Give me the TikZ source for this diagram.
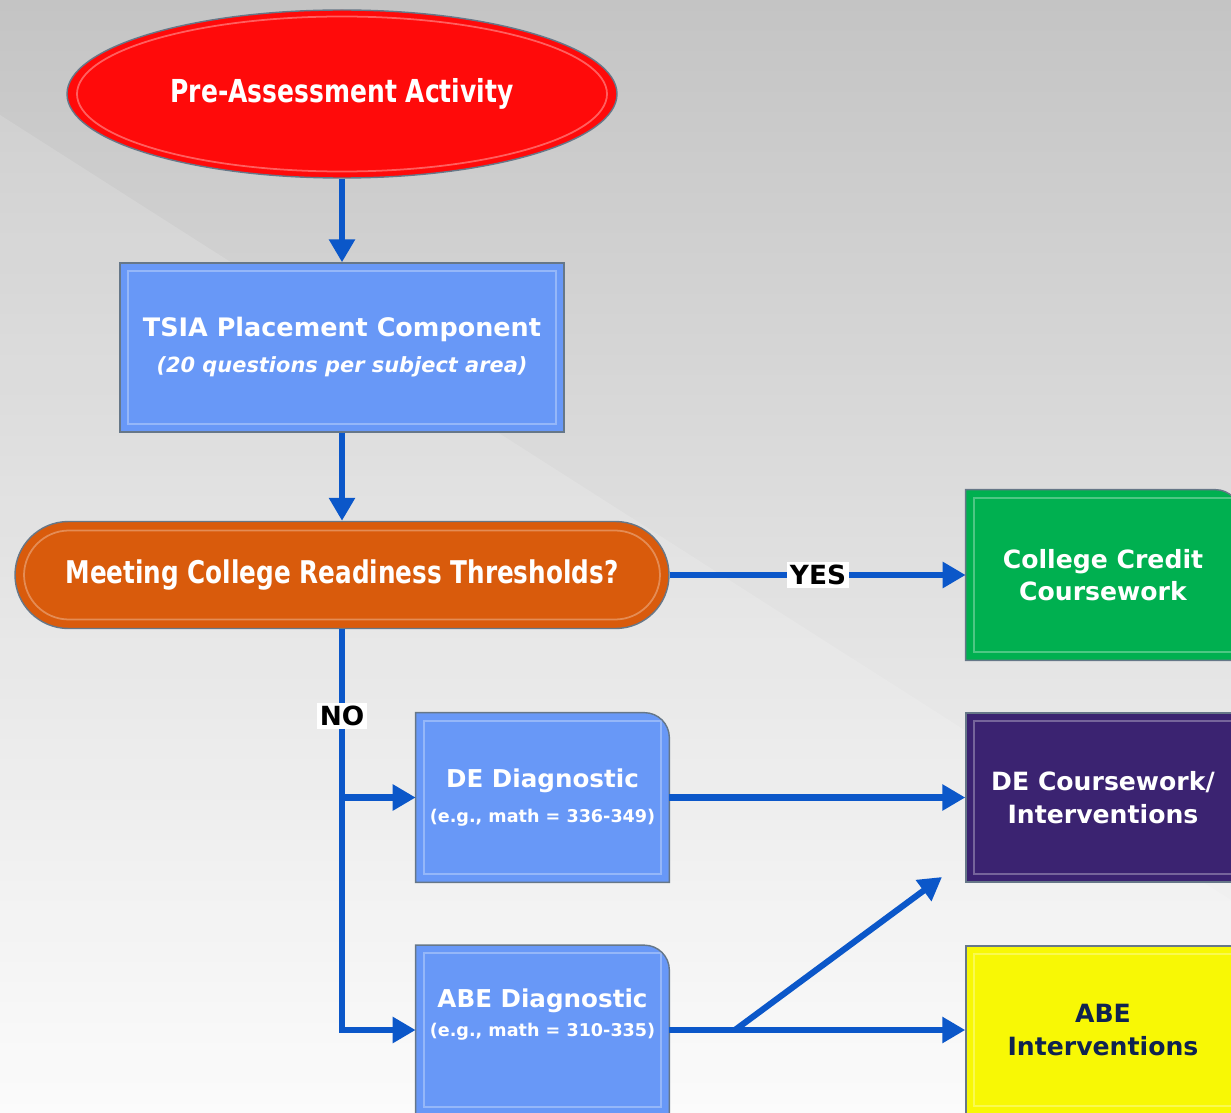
\documentclass[tikz,border=0pt]{standalone}
\usepackage{fontspec}
\setmainfont{DejaVu Sans}
\newfontfamily\narrowfont{DejaVu Sans}[FakeStretch=0.79]
\usetikzlibrary{arrows.meta,shapes.geometric,backgrounds}

\definecolor{lineblue}{HTML}{0B57C9}
\definecolor{edgegray}{HTML}{667788}
\definecolor{redfill}{HTML}{FF0A0A}
\definecolor{bluefill}{HTML}{6898F7}
\definecolor{orangefill}{HTML}{D95B0C}
\definecolor{greenfill}{HTML}{00B050}
\definecolor{purplefill}{HTML}{3B2371}
\definecolor{yellowfill}{HTML}{F8F805}
\definecolor{navytext}{HTML}{0F2350}
\definecolor{bgtop}{HTML}{C4C4C4}
\definecolor{bgbot}{HTML}{FBFBFB}

\begin{document}
\begin{tikzpicture}[
    flow/.style={draw=lineblue, line width=3.5pt,
                 -{Triangle[length=0.46cm, width=0.5cm]}},
    bevel/.style={path picture={\draw[white, opacity=0.3, line width=1.2pt]
        ([shift={(0.16,-0.16)}]path picture bounding box.north west) rectangle
        ([shift={(-0.16,0.16)}]path picture bounding box.south east);}},
    box/.style={rectangle, draw=edgegray, line width=0.8pt, align=center,
                text=white, font=\bfseries\fontsize{14.3}{18.5}\selectfont, inner sep=0pt, bevel},
    slot/.style={rectangle, align=center, text=white, inner sep=0pt,
                 font=\bfseries\fontsize{14}{18.5}\selectfont},
    corner/.style={draw=edgegray, line width=0.8pt, bevel},
    lbl/.style={fill=white, inner sep=1.5pt, text=black,
                font=\bfseries\fontsize{15}{18}\selectfont}
]
    \useasboundingbox (0,0) rectangle (24.62,-22.26);
    \clip (0,0) rectangle (24.62,-22.26);

    % top of the chart
    \node[ellipse, draw=edgegray, line width=0.8pt, fill=redfill, text=white,
          minimum width=11.0cm, minimum height=3.36cm, inner sep=0pt,
          font=\narrowfont\bfseries\fontsize{18}{21}\selectfont,
          path picture={\draw[white, opacity=0.35, line width=1pt]
              (path picture bounding box.center) ellipse [x radius=5.3cm, y radius=1.55cm];}]
          (start) at (6.84,-1.88) {Pre-Assessment Activity};
    \node[box, fill=bluefill, minimum width=8.88cm, minimum height=3.38cm,
          font=\bfseries\fontsize{14.5}{18.5}\selectfont]
          (tsia) at (6.84,-6.95)
          {TSIA Placement Component\\[2pt]{\itshape\fontsize{11.9}{15}\selectfont (20 questions per subject area)}};
    \node[rectangle, rounded corners=1.07cm, draw=edgegray, line width=0.8pt,
          fill=orangefill, text=white, minimum width=13.08cm, minimum height=2.14cm,
          inner sep=0pt, font=\narrowfont\bfseries\fontsize{17.8}{21}\selectfont,
          path picture={\draw[white, opacity=0.3, line width=1pt, rounded corners=0.9cm]
              ([shift={(0.18,-0.18)}]path picture bounding box.north west) rectangle
              ([shift={(-0.18,0.18)}]path picture bounding box.south east);}]
          (ready) at (6.84,-11.5) {Meeting College Readiness Thresholds?};

    % outcomes
    \node[slot, font=\bfseries\fontsize{14.3}{18.5}\selectfont, minimum width=5.48cm, minimum height=3.4cm]
          (credit) at (22.06,-11.5) {College Credit\\Coursework};
    \node[slot, minimum width=5.06cm, minimum height=3.38cm]
          (dediag) at (10.85,-15.95) {DE Diagnostic\\[1pt]{\fontsize{10}{13}\selectfont (e.g., math = 336-349)}};
    \node[slot, minimum width=5.06cm, minimum height=3.38cm,
          label={[slot, yshift=0.31cm]center:{ABE Diagnostic\\[-2pt]{\fontsize{10}{13}\selectfont (e.g., math = 310-335)}}}]
          (abediag) at (10.85,-20.6) {};
    \node[box, fill=purplefill, minimum width=5.48cm, minimum height=3.38cm]
          (dework) at (22.06,-15.95) {DE Coursework/\\Interventions};
    \node[box, fill=yellowfill, text=navytext, minimum width=5.48cm, minimum height=3.36cm]
          (abeint) at (22.06,-20.6) {ABE\\Interventions};

    \begin{scope}[on background layer]
        % backdrop
        \fill[top color=bgtop, bottom color=bgbot] (0,0) rectangle (24.62,-22.26);
        \fill[white, opacity=0.15] (0,-2.3) -- (24.62,-18) -- (24.62,-22.26) -- (0,-22.26) -- cycle;
        \foreach \n/\c in {credit/greenfill, dediag/bluefill, abediag/bluefill}
            \draw[corner, fill=\c] (\n.south west) -- (\n.north west)
                -- ([xshift=-0.5cm]\n.north east) arc[start angle=90, end angle=0, radius=0.5cm]
                -- (\n.south east) -- cycle;
    \end{scope}

    % connectors
    \coordinate (split) at (14.7,-20.6);
    \coordinate (uptip) at (18.84,-17.54);

    \draw[flow] (start) -- (tsia);
    \draw[flow] (tsia) -- (ready);
    \draw[flow] (ready.east) -- (credit.west);
    \draw[flow] (ready.south) |- (abediag.west);
    \draw[flow] (ready.south |- dediag.west) -- (dediag.west);
    \draw[flow] (dediag.east) -- (dework.west);
    \draw[flow] (abediag.east) -- (abeint.west);
    \draw[flow] (split) -- (uptip);

    \node[lbl] (yes) at (16.36,-11.5) {YES};
    \node[lbl] (no) at (6.84,-14.32) {NO};
\end{tikzpicture}
\end{document}
